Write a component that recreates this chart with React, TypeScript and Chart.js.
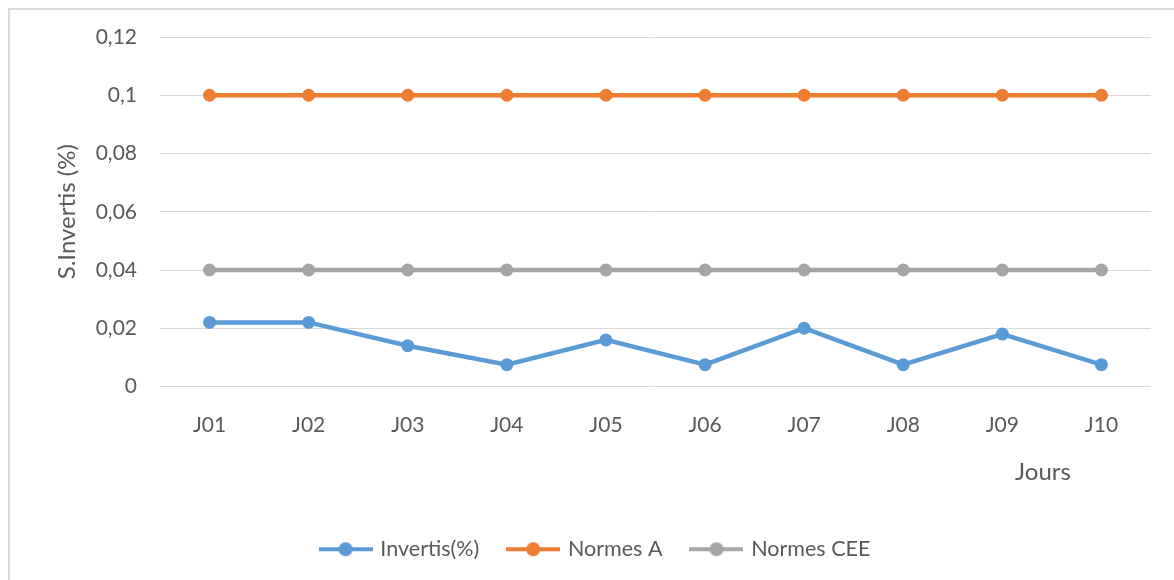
import React, { useEffect, useRef } from "react";
import { Chart, registerables } from "chart.js";

Chart.register(...registerables);

const categories = ["J01", "J02", "J03", "J04", "J05", "J06", "J07", "J08", "J09", "J10"];
const invertis = [0.022, 0.022, 0.014, 0.0075, 0.016, 0.0075, 0.02, 0.0075, 0.018, 0.0075];
const normesA = [0.1, 0.1, 0.1, 0.1, 0.1, 0.1, 0.1, 0.1, 0.1, 0.1];
const normesCEE = [0.04, 0.04, 0.04, 0.04, 0.04, 0.04, 0.04, 0.04, 0.04, 0.04];
const seriesNames = ["Invertis(%)", "Normes A", "Normes CEE"];
const seriesColors = ["#5b9bd5", "#ed7d31", "#a5a5a5"];
const yTitle = "S.Invertis (%)";
const xTitle = "Jours";

const FONT = "Lato, 'Open Sans', sans-serif";
const TEXT = "#595959";

function makeMarker(color: string) {
  const c = document.createElement("canvas");
  c.width = 54;
  c.height = 16;
  const g = c.getContext("2d")!;
  g.strokeStyle = color;
  g.lineWidth = 4;
  g.beginPath();
  g.moveTo(0, 8);
  g.lineTo(54, 8);
  g.stroke();
  g.fillStyle = color;
  g.beginPath();
  g.arc(27, 8, 7, 0, Math.PI * 2);
  g.fill();
  return c;
}

export default function App() {
  const ref = useRef<HTMLCanvasElement | null>(null);

  useEffect(() => {
    if (!ref.current) return;
    const markers = seriesColors.map(makeMarker);
    const dataSets = [invertis, normesA, normesCEE];

    const xTitlePlugin = {
      id: "xTitlePlugin",
      afterDraw(chart: any) {
        const { ctx, chartArea } = chart;
        ctx.save();
        ctx.font = `24px ${FONT}`;
        ctx.fillStyle = TEXT;
        ctx.textAlign = "center";
        ctx.textBaseline = "middle";
        ctx.fillText(xTitle, chartArea.right - 108, chartArea.bottom + 86);
        ctx.restore();
      },
    };

    const chart = new Chart(ref.current, {
      type: "line",
      data: {
        labels: categories,
        datasets: dataSets.map((d, i) => ({
          label: seriesNames[i],
          data: d,
          borderColor: seriesColors[i],
          backgroundColor: seriesColors[i],
          borderWidth: 4.5,
          pointRadius: 6.5,
          pointHoverRadius: 6.5,
          pointBorderWidth: 0,
          pointBackgroundColor: seriesColors[i],
          tension: 0,
          fill: false,
        })),
      },
      options: {
        animation: false,
        responsive: true,
        maintainAspectRatio: false,
        layout: { padding: { top: 27, right: 23, bottom: 10, left: 31 } },
        plugins: {
          tooltip: { enabled: false },
          legend: {
            position: "bottom",
            labels: {
              usePointStyle: true,
              pointStyleWidth: 48,
              padding: 30,
              color: TEXT,
              font: { family: FONT, size: 21.5 },
              generateLabels: (ch: any) => {
                const items = (Chart.defaults.plugins.legend.labels as any).generateLabels(ch);
                return items.map((it: any, i: number) => ({ ...it, pointStyle: markers[i] }));
              },
            },
          },
        },
        scales: {
          x: {
            offset: true,
            grid: { display: false, drawTicks: false },
            border: { display: false },
            ticks: {
              color: TEXT,
              font: { family: FONT, size: 21 },
              padding: 26,
              maxRotation: 0,
            },
            afterFit: (scale: any) => {
              scale.height = 122;
            },
          },
          y: {
            min: 0,
            max: 0.12,
            grid: {
              color: "#d9d9d9",
              lineWidth: 1,
              drawTicks: true,
              tickLength: 23,
              tickColor: "rgba(0,0,0,0)",
            },
            border: { display: false },
            ticks: {
              stepSize: 0.02,
              color: TEXT,
              font: { family: FONT, size: 21 },
              padding: 0,
              callback: (v: any) => Number(Number(v).toFixed(2)).toString().replace(".", ","),
            },
            title: {
              display: true,
              text: yTitle,
              color: TEXT,
              font: { family: FONT, size: 24 },
              padding: { top: 12, bottom: 0 },
            },
            afterFit: (scale: any) => {
              scale.width = 119;
            },
          },
        },
      },
      plugins: [xTitlePlugin],
    });
    return () => chart.destroy();
  }, []);

  return (
    <div
      style={{
        position: "absolute",
        top: 8,
        left: 8,
        width: 1166,
        height: 572,
        boxSizing: "border-box",
        borderTop: "2px solid #d9d9d9",
        borderLeft: "2px solid #d9d9d9",
        background: "#fff",
      }}
    >
      <div style={{ position: "relative", width: 1164, height: 570 }}>
        <canvas ref={ref} />
      </div>
    </div>
  );
}
